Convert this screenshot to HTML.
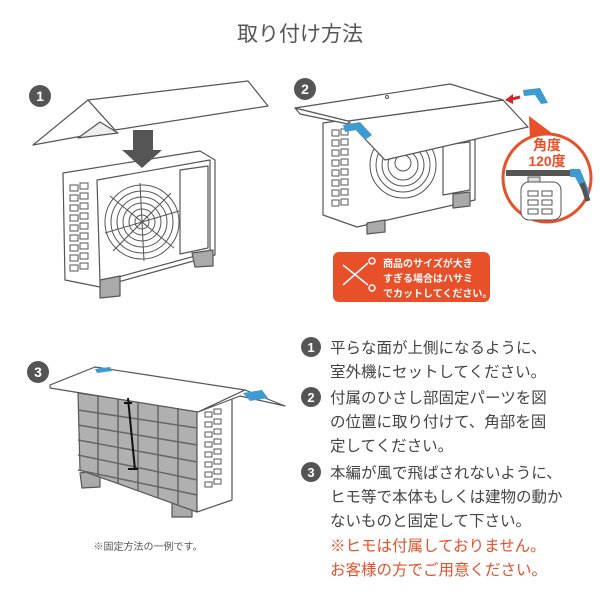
<!DOCTYPE html>
<html><head><meta charset="utf-8"><style>
body{margin:0;background:#fff;}
svg{display:block;font-family:"Liberation Sans","Noto Sans CJK JP",sans-serif;}
</style></head><body>
<svg width="600" height="600" viewBox="0 0 600 600" xmlns="http://www.w3.org/2000/svg">
<text x="300" y="41" font-size="21" fill="#555" text-anchor="middle">取り付け方法</text>

<circle cx="40" cy="96" r="11" fill="#555"/><text x="40" y="101" font-size="14" font-weight="bold" fill="#fff" text-anchor="middle">1</text>
<g stroke="#555" stroke-width="1.2" fill="#fff" stroke-linejoin="round">
 <polygon points="33,145 88,100 115,130"/>
 <polygon points="88,100 248,81 268,106 115,130"/>
 <polygon points="78,138 100,122 118,133" fill="#eee"/>
 <polygon points="63,173 200,151 215,160 215,255 100,287 65,280"/>
 <polygon points="97,180 210,160 210,252 100,282"/>
 <polygon points="180,170 208,166 208,248 180,254"/>
 <polygon points="100,280 120,276 120,296 100,298" fill="#aaa"/>
 <polygon points="192,253 213,250 213,266 195,267" fill="#aaa"/>
</g>
<g stroke="#555" stroke-width="1" fill="none">
 <circle cx="142" cy="222" r="37"/><circle cx="142" cy="222" r="31"/><circle cx="142" cy="222" r="25"/><circle cx="142" cy="222" r="19"/><circle cx="142" cy="222" r="13"/>
 <circle cx="142" cy="222" r="7" fill="#fff"/>
 <path d="M105,233L179,211M110,196L174,248M140,183L144,261M171,193L113,251"/>
</g>
<g fill="none" stroke="#555" stroke-width="1">
 <path d="M70,185h8v6h-8zM80,183h8v6h-8zM70,195h8v6h-8zM80,193h8v6h-8zM70,205h8v6h-8zM80,203h8v6h-8zM70,215h8v6h-8zM80,213h8v6h-8zM70,225h8v6h-8zM80,223h8v6h-8zM70,235h8v6h-8zM80,233h8v6h-8zM70,245h8v6h-8zM80,243h8v6h-8zM70,255h8v6h-8zM80,253h8v6h-8zM70,265h8v6h-8zM80,263h8v6h-8z"/>
</g>
<polygon points="133,130 153,130 153,150 162,150 142,168 122,150 133,150" fill="#555"/>

<circle cx="305" cy="89" r="11" fill="#555"/><text x="305" y="94" font-size="14" font-weight="bold" fill="#fff" text-anchor="middle">2</text>
<g stroke="#555" stroke-width="1.2" fill="#fff" stroke-linejoin="round">
 <polygon points="323,123 357,118 475,140 475,200 357,227 323,215"/>
 <polygon points="367,223 385,220 385,232 367,234" fill="#aaa"/>
 <polygon points="453,194 470,192 470,206 453,208" fill="#aaa"/>
 <polygon points="443,145 470,142 470,190 443,195"/>
</g>
<g stroke="#555" stroke-width="1" fill="none">
 <circle cx="403" cy="165" r="33"/><circle cx="403" cy="165" r="27"/><circle cx="403" cy="165" r="21"/><circle cx="403" cy="165" r="15"/>
 <circle cx="403" cy="163" r="8" fill="#fff"/>
 <path d="M332,130h7v6h-7zM341,129h7v6h-7zM332,140h7v6h-7zM341,139h7v6h-7zM332,150h7v6h-7zM341,149h7v6h-7zM332,160h7v6h-7zM341,159h7v6h-7zM332,170h7v6h-7zM341,169h7v6h-7zM332,180h7v6h-7zM341,179h7v6h-7zM332,190h7v6h-7zM341,189h7v6h-7zM332,200h7v6h-7zM341,199h7v6h-7z"/>
</g>
<g stroke="#555" stroke-width="1.2" fill="#fff" stroke-linejoin="round">
 <polygon points="295,108 300,114 348,124 350,121"/>
 <polygon points="348,121 385,160 528,127 503,100"/>
 <polygon points="295,108 450,84 503,100 348,121"/>
</g>
<circle cx="387" cy="97" r="1.5" fill="none" stroke="#555"/>
<polygon points="343,125 360,122 372,135 365,140 356,130 345,132" fill="#3d9bd0"/>
<polygon points="523,90 540,88 548,103 541,104 535,95 524,96" fill="#3d9bd0"/>
<path d="M520,97 L508,100" stroke="#d9232a" stroke-width="3"/><polygon points="505,100 513,94 513,104" fill="#d9232a"/>
<polygon points="529,116 553,134 530,140" fill="#e8502a"/>
<circle cx="547" cy="178" r="44" fill="#fff" stroke="#e8502a" stroke-width="3"/>
<text x="547" y="150" font-size="14" font-weight="bold" fill="#e8502a" text-anchor="middle">角度</text>
<text x="547" y="166" font-size="14" font-weight="bold" fill="#e8502a" text-anchor="middle">120度</text>
<rect x="506" y="170" width="72" height="6" fill="#555"/>
<polygon points="570,169 580,169 590,193 585,196 575,177 570,177" fill="#3d9bd0"/>
<path d="M582,183 L588,201" stroke="#555" stroke-width="5"/>
<rect x="528" y="177" width="12" height="5" fill="#ddd" stroke="#555"/>
<rect x="521" y="182" width="40" height="38" rx="8" fill="#fff" stroke="#555"/>
<g fill="none" stroke="#555"><path d="M528,191h10v5h-10zM542,191h10v5h-10zM528,200h10v5h-10zM542,200h10v5h-10zM528,209h10v5h-10zM542,209h10v5h-10z"/></g>
<rect x="333" y="252" width="157" height="50" rx="6" fill="#e8502a"/>
<g stroke="#fff" stroke-width="1.5" fill="none"><path d="M343,285 L368,263 M343,265 L368,285"/><circle cx="372" cy="261" r="3"/><circle cx="372" cy="288" r="3"/></g>
<g font-size="10" font-weight="bold" fill="#fff"><text x="383" y="267">商品のサイズが大き</text><text x="383" y="282">すぎる場合はハサミ</text><text x="383" y="297">でカットしてください。</text></g>

<circle cx="38" cy="372" r="11" fill="#555"/><text x="38" y="377" font-size="14" font-weight="bold" fill="#fff" text-anchor="middle">3</text>
<g stroke="#555" stroke-width="1.2" stroke-linejoin="round">
 <polygon points="80,473 100,470 100,487 82,488" fill="#aaa"/>
 <polygon points="172,503 192,500 192,517 172,517" fill="#aaa"/>
 <polygon points="78,393 197,410 197,512 80,470" fill="#b0b0b0"/>
 <polygon points="197,410 232,397 232,500 197,512" fill="#fff"/>
</g>
<g stroke="#666" stroke-width="1.5" fill="none">
 <path d="M78,410L197,428M78,425L197,445M78,440L197,462M78,455L197,480M78,470L197,495"/>
 <path d="M98,396V476M118,399V483M138,402V491M158,405V498M178,408V505"/>
</g>
<g fill="none" stroke="#555" stroke-width="1"><path d="M205,412h7v5h-7zM214,409h7v5h-7zM205,422h7v5h-7zM214,419h7v5h-7zM205,432h7v5h-7zM214,429h7v5h-7zM205,442h7v5h-7zM214,439h7v5h-7zM205,452h7v5h-7zM214,449h7v5h-7zM205,462h7v5h-7zM214,459h7v5h-7zM205,472h7v5h-7zM214,469h7v5h-7zM205,482h7v5h-7zM214,479h7v5h-7z"/></g>
<g stroke="#555" stroke-width="1.2" fill="#fff" stroke-linejoin="round">
 <polygon points="50,385 95,367 245,390 198,412 50,388"/>
 <polygon points="198,412 240,396 285,406 245,390"/>
</g>
<polygon points="95,369 110,367 112,371 97,373" fill="#3d9bd0"/>
<polygon points="243,393 262,390 268,398 250,401" fill="#3d9bd0"/>
<path d="M128,398 L135,470 M124,403h8 M128,469h10" stroke="#111" stroke-width="2" fill="none"/>
<text x="148" y="550" font-size="10" fill="#555" text-anchor="middle">※固定方法の一例です。</text>

<g font-size="15.5" fill="#444">
 <circle cx="311" cy="347" r="10" fill="#555"/><text x="311" y="352" font-size="13" font-weight="bold" fill="#fff" text-anchor="middle">1</text>
 <text x="330" y="353">平らな面が上側になるように、</text>
 <text x="330" y="377">室外機にセットしてください。</text>
 <circle cx="311" cy="397" r="10" fill="#555"/><text x="311" y="402" font-size="13" font-weight="bold" fill="#fff" text-anchor="middle">2</text>
 <text x="330" y="403">付属のひさし部固定パーツを図</text>
 <text x="330" y="427">の位置に取り付けて、角部を固</text>
 <text x="330" y="451">定してください。</text>
 <circle cx="311" cy="472" r="10" fill="#555"/><text x="311" y="477" font-size="13" font-weight="bold" fill="#fff" text-anchor="middle">3</text>
 <text x="330" y="478">本編が風で飛ばされないように、</text>
 <text x="330" y="502">ヒモ等で本体もしくは建物の動か</text>
 <text x="330" y="526">ないものと固定して下さい。</text>
 <text x="330" y="551" fill="#e8502a">※ヒモは付属しておりません。</text>
 <text x="330" y="575" fill="#e8502a">お客様の方でご用意ください。</text>
</g>
</svg>
</body></html>
